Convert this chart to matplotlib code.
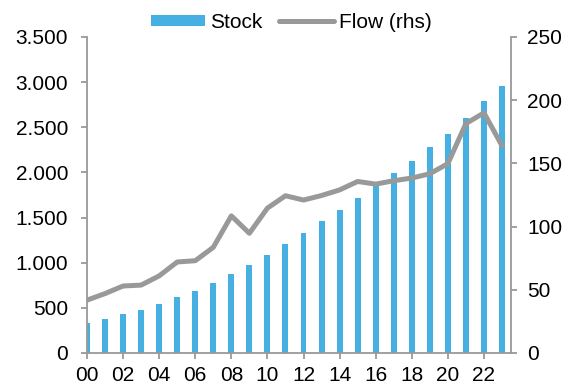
import numpy as np
import matplotlib.pyplot as plt
from matplotlib.ticker import FuncFormatter

plt.rcParams['font.family'] = ['Liberation Sans', 'DejaVu Sans']

# years 2000-2023
years = np.arange(24)
stock = [327, 371, 427, 478, 541, 615, 686, 771, 878, 974, 1085, 1211,
         1333, 1459, 1585, 1722, 1875, 1993, 2130, 2278, 2426, 2604, 2796, 2960]
flow = [41.8, 47, 53, 53.7, 61, 72, 73, 83.6, 108.5, 94.7, 114.6, 124.4,
        121, 124.6, 129, 135.7, 133.6, 136.3, 138.4, 141.8, 149.8, 181.5, 190, 164]
xlabels = ['00', '02', '04', '06', '08', '10', '12', '14', '16', '18', '20', '22']

blue = '#45B0E1'
grey = '#999999'
fs = 15

fig = plt.figure(figsize=(5.7, 3.87), dpi=100)
ax = fig.add_axes([0.1526, 0.0879, 0.7439, 0.8165])
ax2 = ax.twinx()

ax.bar(years, stock, width=0.33, color=blue, label='Stock')
ax2.plot(years, flow, color=grey, lw=3.6, solid_capstyle='round', label='Flow (rhs)')

ax.set_xlim(0, 23.5)
ax.set_ylim(0, 3500)
ax2.set_ylim(0, 250)
ax.set_yticks(np.arange(0, 3501, 500))
ax2.set_yticks(np.arange(0, 251, 50))
ax.yaxis.set_major_formatter(FuncFormatter(lambda v, p: f'{v:,.0f}'.replace(',', '.')))
ax.set_xticks(years[::2])
ax.set_xticklabels(xlabels)

for a in (ax, ax2):
    a.spines['top'].set_visible(False)
    for s in ('left', 'right', 'bottom'):
        a.spines[s].set_color(grey)
        a.spines[s].set_linewidth(1.3)
    a.tick_params(axis='both', colors=grey, labelcolor='black', labelsize=fs,
                  length=4.5, width=1.3, direction='out')
ax.tick_params(axis='y', pad=9)
ax.tick_params(axis='x', pad=5)
ax2.tick_params(axis='y', pad=7)
ax.spines['right'].set_visible(False)
ax2.spines['left'].set_visible(False)
ax2.spines['bottom'].set_visible(False)

h1, l1 = ax.get_legend_handles_labels()
h2, l2 = ax2.get_legend_handles_labels()
fig.legend(h1 + h2, l1 + l2, loc='center', bbox_to_anchor=(0.511, 0.942), ncol=2,
           frameon=False, fontsize=fs, handlelength=2.6, handleheight=0.5,
           handletextpad=0.25, columnspacing=0.8, borderpad=0)

fig.savefig('out.png', dpi=100)
